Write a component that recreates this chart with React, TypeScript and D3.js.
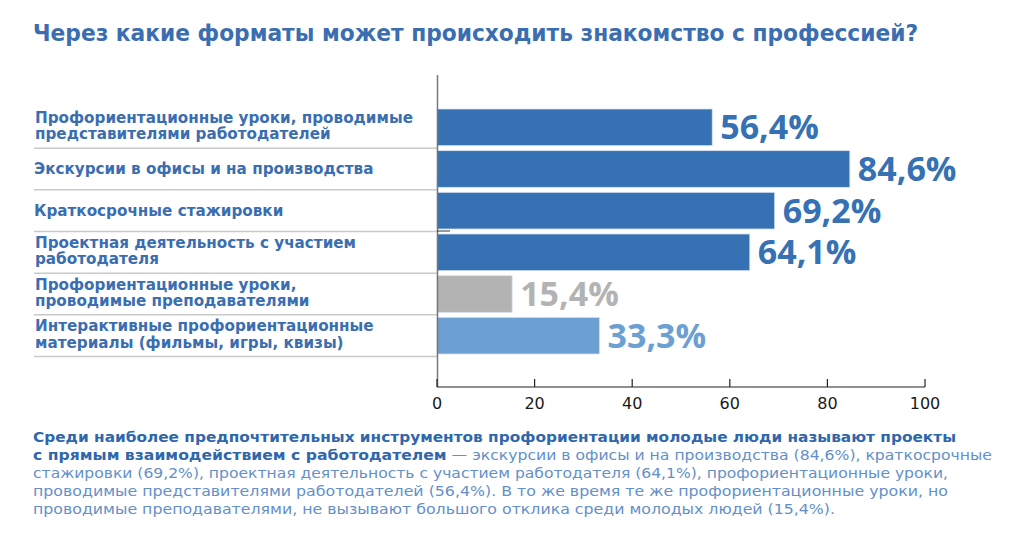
import React from "react";
import * as d3 from "d3";

const title = "Через какие форматы может происходить знакомство с профессией?";

const categories = [
  "Профориентационные уроки, проводимые представителями работодателей",
  "Экскурсии в офисы и на производства",
  "Краткосрочные стажировки",
  "Проектная деятельность с участием работодателя",
  "Профориентационные уроки, проводимые преподавателями",
  "Интерактивные профориентационные материалы (фильмы, игры, квизы)",
];

const categoryLines = [
  ["Профориентационные уроки, проводимые", "представителями работодателей"],
  ["Экскурсии в офисы и на производства"],
  ["Краткосрочные стажировки"],
  ["Проектная деятельность с участием", "работодателя"],
  ["Профориентационные уроки,", "проводимые преподавателями"],
  ["Интерактивные профориентационные", "материалы (фильмы, игры, квизы)"],
];

const values = [56.4, 84.6, 69.2, 64.1, 15.4, 33.3];
const valueLabels = ["56,4%", "84,6%", "69,2%", "64,1%", "15,4%", "33,3%"];
const barKinds = ["dark", "dark", "dark", "dark", "grey", "light"];

const tickValues = [0, 20, 40, 60, 80, 100];

const paragraph = [
  [{ t: "Среди наиболее предпочтительных инструментов профориентации молодые люди называют проекты", b: true }],
  [
    { t: "с прямым взаимодействием с работодателем", b: true },
    { t: " — экскурсии в офисы и на производства (84,6%), краткосрочные", b: false },
  ],
  [{ t: "стажировки (69,2%), проектная деятельность с участием работодателя (64,1%), профориентационные уроки,", b: false }],
  [{ t: "проводимые представителями работодателей (56,4%). В то же время те же профориентационные уроки, но", b: false }],
  [{ t: "проводимые преподавателями, не вызывают большого отклика среди молодых людей (15,4%).", b: false }],
];

const colors: Record<string, string> = {
  dark: "#3571b3",
  grey: "#b3b3b3",
  light: "#6c9fd2",
};
const labelColors: Record<string, string> = {
  dark: "#3571b3",
  grey: "#b3b3b3",
  light: "#6c9fd2",
};

const W = 1024;
const H = 548;
const textBlue = "#3a6eb1";
const paraWidths = [923, 959, 915, 915, 802];

export default function App() {
  const x = d3.scaleLinear().domain([0, 100]).range([437, 925]);
  const y = d3
    .scaleBand<string>()
    .domain(categories)
    .range([106.5, 356.5])
    .paddingInner(0.12)
    .paddingOuter(0.06);
  const bw = y.bandwidth();
  const gap = y.step() - bw;
  const axisY = 387;

  return (
    <svg
      width={W}
      height={H}
      style={{ position: "absolute", left: 0, top: 0, background: "#fff" }}
      fontFamily="'DejaVu Sans', sans-serif"
    >
      <rect width={W} height={H} fill="#fff" />
      <text
        x={33}
        y={40.5}
        fontSize={22.5}
        fontWeight={700}
        fill={textBlue}
        textLength={885}
        lengthAdjust="spacingAndGlyphs"
      >
        {title}
      </text>

      {/* separators */}
      {categories.map((c) => {
        const yy = (y(c) as number) + bw + gap / 2;
        return <line key={"s" + c} x1={34} x2={437} y1={yy} y2={yy} stroke="#c9c9c9" strokeWidth={1.5} />;
      })}

      {/* bars */}
      {categories.map((c, i) => (
        <rect
          key={"b" + c}
          x={x(0)}
          y={y(c) as number}
          width={x(values[i]) - x(0)}
          height={bw}
          fill={colors[barKinds[i]]}
          stroke="#d6e2f0"
          strokeWidth={0.8}
        />
      ))}

      {/* category labels */}
      {categories.map((c, i) => {
        const cy = (y(c) as number) + bw / 2;
        const lines = categoryLines[i];
        return (
          <text key={"l" + c} fontSize={15.2} fontWeight={700} fill={textBlue}>
            {lines.length === 1 ? (
              <tspan x={34} y={cy + 5}>
                {lines[0]}
              </tspan>
            ) : (
              lines.map((ln, k) => (
                <tspan key={k} x={35} y={cy - 4.5 + k * 16.5}>
                  {ln}
                </tspan>
              ))
            )}
          </text>
        );
      })}

      {/* value labels */}
      {categories.map((c, i) => (
        <text
          key={"v" + c}
          x={x(values[i]) + 8}
          y={(y(c) as number) + bw / 2 + 12}
          fontSize={34}
          fontWeight={700}
          fontFamily="'Open Sans', sans-serif"
          fill={labelColors[barKinds[i]]}
        >
          {valueLabels[i]}
        </text>
      ))}

      {/* y axis line */}
      <line x1={437.5} x2={437.5} y1={75} y2={axisY} stroke="#777" strokeWidth={1.5} />
      <line x1={437} x2={450} y1={231} y2={231} stroke="#333" strokeWidth={1} />

      {/* x axis */}
      <line x1={x(0)} x2={x(100)} y1={axisY} y2={axisY} stroke="#222" strokeWidth={1.2} />
      {tickValues.map((t) => (
        <g key={"t" + t}>
          <line x1={x(t)} x2={x(t)} y1={axisY} y2={axisY - 8} stroke="#222" strokeWidth={1.2} />
          <text x={x(t)} y={axisY + 22} textAnchor="middle" fontSize={16} fill="#1a1a1a" fontWeight={400}>
            {t}
          </text>
        </g>
      ))}

      {/* paragraph */}
      {paragraph.map((line, i) => (
        <text
          key={"p" + i}
          x={33}
          y={442.3 + i * 17.9}
          fontSize={14.3}
          textLength={paraWidths[i]}
          lengthAdjust="spacingAndGlyphs"
        >
          {line.map((seg, k) => (
            <tspan key={k} fontWeight={seg.b ? 700 : 400} fill={seg.b ? "#2f67ad" : "#6390c9"}>
              {seg.t}
            </tspan>
          ))}
        </text>
      ))}
    </svg>
  );
}
